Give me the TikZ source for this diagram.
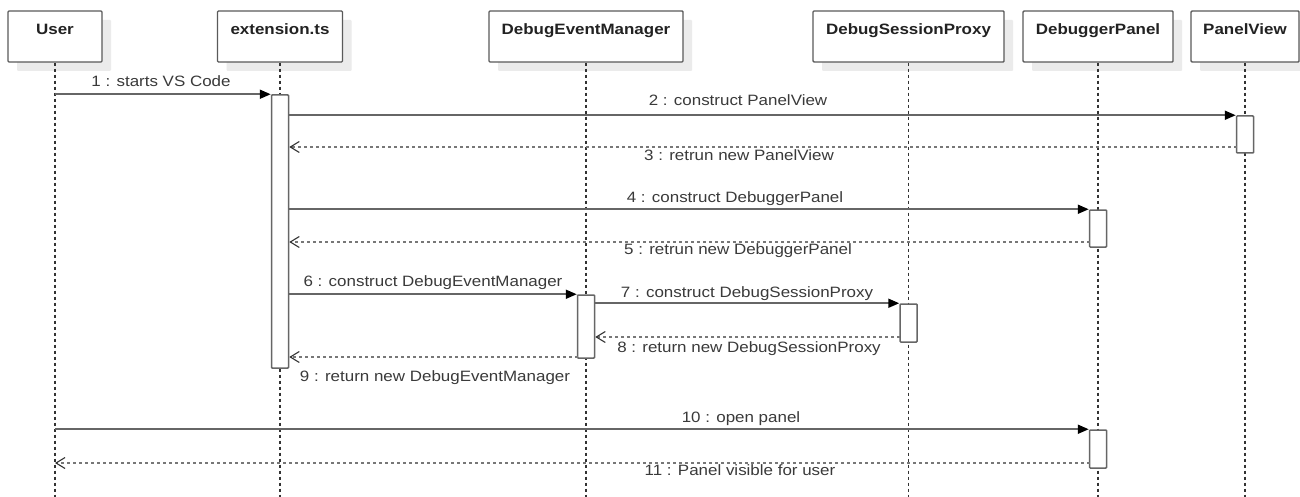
\documentclass[tikz,border=0pt]{standalone}
\usepackage{fontspec}
\setmainfont{Liberation Sans}[FakeStretch=1.13]
\usetikzlibrary{arrows.meta,shadows}
\definecolor{boxline}{HTML}{5A5A5A}
\definecolor{msgline}{HTML}{666666}
\definecolor{retline}{HTML}{777777}
\definecolor{lifeline}{HTML}{333333}
\definecolor{shadowc}{HTML}{EBEBEB}
\definecolor{lbltext}{HTML}{3A3A3A}
\definecolor{hdrtext}{HTML}{222222}
\tikzset{
  hdr/.style={draw=boxline, line width=1.4pt, fill=white, rounded corners=1pt,
    minimum height=51pt, inner sep=0pt,
    drop shadow={shadow xshift=9pt, shadow yshift=-9pt, fill=shadowc, opacity=1}},
  hdrtxt/.style={anchor=base, text=hdrtext, font=\fontsize{15}{18}\selectfont\bfseries, inner sep=0pt},
  life/.style={draw=lifeline, line width=1.2pt, dash pattern=on 3pt off 3pt},
  actbar/.style={draw=msgline, line width=1.5pt, fill=white, minimum width=17pt, inner sep=0pt, rounded corners=0.8pt},
  msg/.style={draw=msgline, line width=1.8pt, -{Triangle[length=11pt,width=9pt,color=black]}},
  ret/.style={draw=retline, line width=1.6pt, dash pattern=on 3pt off 3pt,
    -{Straight Barb[length=9pt,width=11pt,line width=1.1pt,color=lifeline]}},
  lbl/.style={anchor=base, text=lbltext, font=\fontsize{15}{18}\selectfont, inner sep=0pt}
}
\begin{document}
\begin{tikzpicture}[x=1pt,y=-1pt]
\useasboundingbox (0,0) rectangle (1300,497);
\fill[white] (0,0) rectangle (1300,497);

% header boxes
\node[hdr, minimum width=94pt]  (user) at (55,36.5) {};
\node[hdr, minimum width=125pt] (ext)  at (280,36.5) {};
\node[hdr, minimum width=194pt] (dem)  at (586,36.5) {};
\node[hdr, minimum width=191pt] (dsp)  at (908.5,36.5) {};
\node[hdr, minimum width=150pt] (dp)   at (1098,36.5) {};
\node[hdr, minimum width=108pt] (pv)   at (1245,36.5) {};

\node[hdrtxt] (user-t) at (55,35) {User};
\node[hdrtxt] (ext-t)  at (280,35) {extension.ts};
\node[hdrtxt] (dem-t)  at (586,35) {DebugEventManager};
\node[hdrtxt] (dsp-t)  at (908.5,35) {DebugSessionProxy};
\node[hdrtxt] (dp-t)   at (1098,35) {DebuggerPanel};
\node[hdrtxt] (pv-t)   at (1245,35) {PanelView};

% lifeline ends
\coordinate (user-end) at (55,497);
\coordinate (ext-end)  at (280,497);
\coordinate (dem-end)  at (586,497);
\coordinate (dsp-end)  at (908.5,497);
\coordinate (dp-end)   at (1098,497);
\coordinate (pv-end)   at (1245,497);

\draw[life] (user.south) -- (user-end);
\draw[life] (ext.south)  -- (ext-end);
\draw[life] (dem.south)  -- (dem-end);
\draw[life] (dsp.south)  -- (dsp-end);
\draw[life] (dp.south)   -- (dp-end);
\draw[life] (pv.south)   -- (pv-end);

% activation bars
\node[actbar, minimum height=273pt] (a-ext) at (280,231.5) {};
\node[actbar, minimum height=37pt]  (a-pv)  at (1245,134.5) {};
\node[actbar, minimum height=37pt]  (a-dp1) at (1098,228.5) {};
\node[actbar, minimum height=63pt]  (a-dem) at (586,326.5) {};
\node[actbar, minimum height=38pt]  (a-dsp) at (908.5,323) {};
\node[actbar, minimum height=38pt]  (a-dp2) at (1098,449) {};

% return points
\coordinate (r3)  at (1236.5,147);
\coordinate (r5)  at (1089.5,242);
\coordinate (r8)  at (900,337);
\coordinate (r9)  at (577.5,357);
\coordinate (r11) at (1089.5,463);

% messages
\draw[msg] (user.south |- a-ext.north) -- (a-ext.north west);
\node[lbl] (l1) at (161,87) {1 : starts VS Code};

\draw[msg] (a-ext.east |- a-pv.north) -- (a-pv.north west);
\node[lbl] (l2) at (738,106) {2 : construct PanelView};

\draw[ret] (r3) -- (a-ext.east |- r3);
\node[lbl] (l3) at (739,161) {3 : retrun new PanelView};

\draw[msg] (a-ext.east |- a-dp1.north) -- (a-dp1.north west);
\node[lbl] (l4) at (735,202) {4 : construct DebuggerPanel};

\draw[ret] (r5) -- (a-ext.east |- r5);
\node[lbl] (l5) at (738,254) {5 : retrun new DebuggerPanel};

\draw[msg] (a-ext.east |- a-dem.north) -- (a-dem.north west);
\node[lbl] (l6) at (433,286) {6 : construct DebugEventManager};

\draw[msg] (a-dem.east |- a-dsp.north) -- (a-dsp.north west);
\node[lbl] (l7) at (747,297) {7 : construct DebugSessionProxy};

\draw[ret] (r8) -- (a-dem.east |- r8);
\node[lbl] (l8) at (749,352) {8 : return new DebugSessionProxy};

\draw[ret] (r9) -- (a-ext.east |- r9);
\node[lbl] (l9) at (435,381) {9 : return new DebugEventManager};

\draw[msg] (user.south |- a-dp2.north) -- (a-dp2.north west);
\node[lbl] (l10) at (741,422) {10 : open panel};

\draw[ret] (r11) -- (user.south |- r11);
\node[lbl] (l11) at (740,475) {11 : Panel visible for user};
\end{tikzpicture}
\end{document}
